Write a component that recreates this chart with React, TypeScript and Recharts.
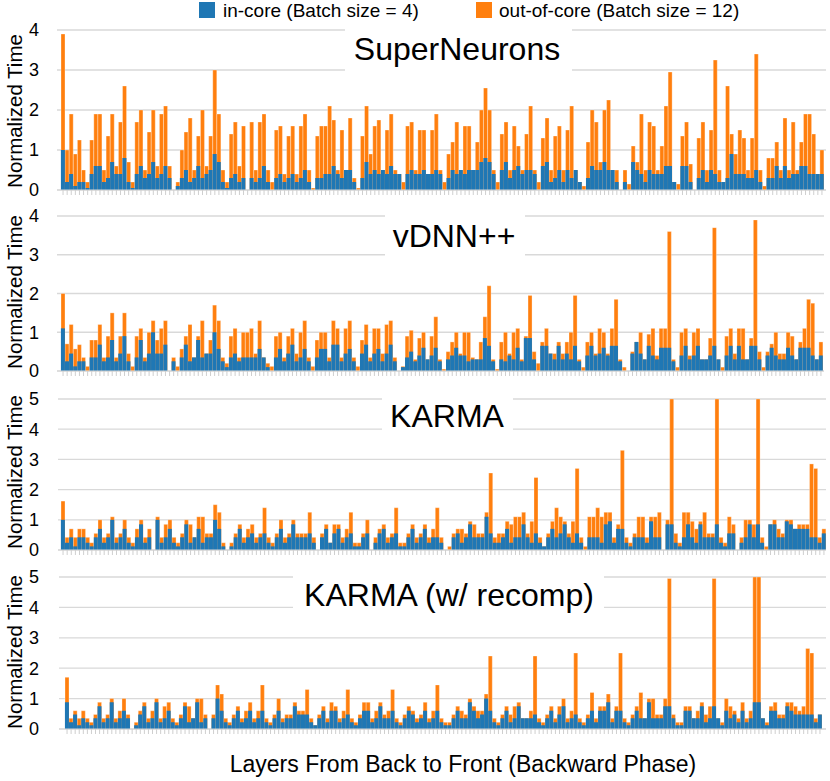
import React from 'react';
import { BarChart, Bar, XAxis, YAxis, CartesianGrid } from 'recharts';

// normalized time per layer, from back to front (186 layers)
const superInCore = [
  1.0, 0.2, 0.4, 0.1, 0.2, 0.2, 0.05, 0.4, 0.6, 0.6, 0.2, 0.3, 0.7, 0.4, 0.4, 0.8, 0.2, 0.05, 0.4, 0.6,
  0.3, 0.4, 0.7, 0.3, 0.4, 0.6, 0.3, 0, 0.1, 0.3, 0.5, 0.2, 0.3, 0.6, 0.3, 0.4, 0.5, 0.9, 0.7, 0.2,
  0.05, 0.3, 0.4, 0.2, 0.3, 0, 0.3, 0.2, 0.3, 0.6, 0.2, 0, 0.3, 0.4, 0.2, 0.3, 0.4, 0.2, 0.3, 0.5,
  0.2, 0, 0.3, 0.3, 0.4, 0.4, 0.6, 0.4, 0.3, 0.5, 0.5, 0.2, 0, 0.3, 0.7, 0.4, 0.5, 0.4, 0.5, 0.4,
  0.6, 0.4, 0.4, 0, 0.4, 0.5, 0.4, 0.4, 0.5, 0.4, 0.4, 0.5, 0.4, 0, 0.3, 0.5, 0.4, 0.5, 0.4, 0.5,
  0.5, 0.5, 0.7, 0.8, 0.7, 0.4, 0, 0.5, 0.7, 0.3, 0.5, 0.6, 0.4, 0.5, 0.5, 0.4, 0, 0.6, 0.7, 0.2,
  0.3, 0.5, 0.2, 0.5, 0.3, 0.5, 0.2, 0, 0.3, 0.6, 0.5, 0.5, 0.7, 0.5, 0.5, 0.2, 0, 0.2, 0, 0.7,
  0.5, 0.4, 0.2, 0.5, 0.4, 0.4, 0.4, 0.6, 0.6, 0.2, 0, 0.6, 0.6, 0.2, 0, 0.3, 0.5, 0.2, 0.5, 0.4,
  0.2, 0.2, 0.3, 0.9, 0.4, 0.4, 0.4, 0.3, 0.3, 0.5, 0.2, 0, 0.3, 0.3, 0.6, 0.3, 0.6, 0.3, 0.4, 0.4,
  0.6, 0.6, 0.4, 0.4, 0.4, 0.4,
];
const superOutCore = [
  3.9, 1.0, 1.9, 0.9, 1.25, 0.5, 0.2, 1.25, 1.9, 1.9, 0.5, 1.35, 1.9, 0.6, 1.7, 2.6, 0.7, 0.2, 1.7, 2.0,
  0.5, 1.45, 2.0, 0.6, 1.9, 2.1, 0.6, 0, 0.2, 1.0, 1.45, 1.8, 0.5, 1.35, 2.0, 0.6, 1.35, 3.0, 1.9, 0.5,
  0.2, 1.4, 1.7, 0.6, 1.6, 0, 1.7, 0.5, 1.7, 1.9, 0.5, 0.2, 1.5, 1.6, 0.4, 1.35, 1.6, 0.4, 1.6, 1.9,
  0.5, 0.05, 1.35, 1.6, 1.6, 2.1, 1.75, 0.5, 1.5, 0.5, 1.8, 0.3, 0.05, 1.35, 2.1, 0.9, 1.6, 1.75, 0.5, 1.5,
  1.9, 0.5, 0.4, 0.2, 1.6, 1.7, 0.5, 1.5, 1.5, 0.4, 1.5, 1.9, 0.5, 0.2, 0.9, 1.2, 1.7, 0.5, 1.6, 1.6,
  0.5, 1.2, 2.0, 2.55, 2.0, 0.5, 0.2, 1.4, 1.7, 0.5, 1.6, 1.1, 0.5, 1.4, 2.1, 0.5, 0.2, 1.3, 1.8, 0.5,
  1.35, 1.6, 0.5, 1.5, 2.1, 0.5, 0.2, 0.1, 1.2, 2.0, 1.7, 0.7, 2.0, 2.25, 0.5, 0.5, 0, 0.5, 0.15, 1.1,
  0.7, 1.9, 0.5, 1.7, 1.6, 0.5, 1.1, 2.1, 2.95, 0.2, 0.15, 1.35, 1.7, 0.65, 0, 1.3, 1.7, 0.5, 1.5, 3.25,
  0.5, 0.2, 2.6, 1.4, 0.9, 1.5, 1.3, 0.5, 1.3, 3.4, 0.5, 0.1, 0.8, 0.8, 1.2, 0.5, 1.8, 0.5, 1.7, 0.5,
  1.2, 1.9, 1.9, 1.4, 0.4, 1.0,
];

const vdnnInCore = [
  1.1, 0.25, 0.45, 0.12, 0.25, 0.25, 0, 0.35, 0.35, 0.68, 0.25, 0.35, 0.8, 0.25, 0.45, 0.9, 0.25, 0, 0.35, 0.8,
  0.25, 0.45, 1.0, 0.45, 0.45, 0.68, 0, 0.25, 0, 0.35, 0.68, 0.25, 0.35, 0.8, 0.35, 0.45, 0.45, 1.0, 0.57, 0.25,
  0.1, 0.35, 0.45, 0.25, 0.35, 0.35, 0.35, 0.35, 0.57, 0.35, 0.1, 0, 0.35, 0.57, 0.25, 0.45, 0.68, 0.25, 0.35, 0.57,
  0.25, 0, 0.35, 0.57, 0.57, 0.25, 0.68, 0.68, 0.25, 0.45, 0.57, 0.25, 0, 0.45, 0.68, 0.25, 0.45, 0.57, 0.25, 0.45,
  0.68, 0.25, 0, 0.1, 0.35, 0.5, 0.25, 0.4, 0.6, 0.3, 0.4, 0.6, 0.25, 0, 0.3, 0.4, 0.6, 0.4, 0.4, 0.25,
  0.3, 0.3, 0.3, 0.85, 0.65, 0.25, 0, 0.3, 0.25, 0.4, 0.3, 0.6, 0.25, 0.85, 0.85, 0.3, 0, 0.65, 0.65, 0.45,
  0.3, 0.65, 0.3, 0.45, 0.3, 0.65, 0.25, 0, 0.4, 0.65, 0.4, 0.45, 0.6, 0.4, 0.65, 0.65, 0.25, 0, 0, 0.45,
  0.75, 0.45, 0.3, 0.65, 0.4, 0.3, 0.6, 0.6, 0.6, 0.25, 0, 0.4, 0.65, 0.3, 0.4, 0.65, 0.3, 0.3, 0.4, 0.65,
  0.3, 0, 0.4, 0.65, 0.3, 0.65, 0.3, 0.3, 0.65, 0.65, 0.3, 0, 0.4, 0.6, 0.4, 0.3, 0.3, 0.6, 0.4, 0.3,
  0.6, 0.6, 0.6, 0.4, 0.3, 0.4,
];
const vdnnOutCore = [
  2.0, 0.7, 1.2, 0.57, 0.68, 0.35, 0.12, 0.8, 0.8, 1.2, 0.35, 0.9, 1.5, 0.35, 0.9, 1.5, 0.45, 0.12, 0.9, 1.1,
  0.35, 1.0, 1.3, 0.8, 1.1, 1.3, 0, 0.35, 0.12, 0.57, 0.9, 1.2, 0.35, 0.9, 1.3, 0.45, 0.8, 1.7, 1.3, 0.35,
  0.2, 0.9, 1.1, 0.35, 1.0, 1.0, 1.1, 0.45, 1.3, 0.35, 0.2, 0.12, 0.9, 1.0, 0.35, 0.9, 1.1, 0.45, 1.0, 1.3,
  0.35, 0.12, 0.8, 1.0, 1.0, 0.35, 1.3, 1.1, 0.35, 1.1, 1.3, 0.35, 0.12, 0.8, 1.2, 0.35, 1.1, 1.1, 0.45, 1.2,
  1.3, 0.35, 0, 0.12, 0.9, 1.05, 0.3, 0.85, 1.0, 0.3, 0.9, 1.4, 0.3, 0.05, 0.5, 0.75, 1.0, 0.45, 1.0, 1.0,
  0.35, 0.3, 0.75, 1.4, 2.2, 0.3, 0.05, 0.75, 1.0, 0.45, 1.0, 1.1, 0.3, 0.9, 1.95, 0.5, 0.2, 0.75, 1.1, 0.45,
  0.45, 0.75, 0.45, 0.75, 1.0, 1.95, 0.3, 0.1, 0.75, 1.0, 0.45, 1.1, 1.0, 0.45, 1.1, 1.85, 0.3, 0.1, 0, 0.5,
  0.75, 1.0, 0.3, 0.95, 1.1, 0.4, 1.1, 1.1, 3.6, 0.3, 0.1, 1.0, 1.1, 0.4, 1.0, 1.1, 0.3, 0.3, 0.85, 3.7,
  0.3, 0.1, 0.9, 1.1, 0.45, 1.1, 1.1, 0.3, 0.85, 3.9, 0.5, 0.1, 0.5, 0.7, 1.0, 0.45, 0.45, 1.0, 0.9, 0.3,
  0.75, 1.1, 1.85, 1.75, 0.3, 0.75,
];

const karmaInCore = [
  1.0, 0.24, 0.42, 0.12, 0.42, 0.42, 0.24, 0.12, 0.42, 0.7, 0.24, 0.42, 1.0, 0.24, 0.42, 0.7, 0.24, 0.12, 0.42, 0.85,
  0.24, 0.42, 0, 1.0, 0.24, 0.42, 0.7, 0.24, 0.12, 0.42, 0.85, 0.24, 0.42, 0.7, 0.24, 0.42, 0.42, 1.0, 0.7, 0.12,
  0, 0.12, 0.42, 0.7, 0.24, 0.42, 0.55, 0.24, 0.42, 0.55, 0.24, 0.12, 0.42, 0.7, 0.24, 0.42, 0.85, 0.42, 0.42, 0.42,
  0.55, 0.24, 0, 0.42, 0.7, 0.24, 0.55, 0.7, 0.24, 0.42, 0.55, 0.12, 0.12, 0.42, 0.55, 0, 0.24, 0.55, 0.7, 0.24,
  0.42, 0.55, 0.12, 0.12, 0.42, 0.7, 0.24, 0.42, 0.7, 0.24, 0.42, 0.42, 0.24, 0, 0, 0.42, 0.55, 0.24, 0.42, 0.85,
  0.42, 0.42, 0.42, 1.1, 0.55, 0.24, 0.24, 0.42, 0.7, 0.24, 0.42, 0.42, 0.85, 0.42, 0.24, 0.55, 0.24, 0.12, 0.42, 0.7,
  0.42, 0.55, 0.85, 0.42, 0.24, 0.55, 0.24, 0, 0.42, 0.42, 0.42, 0.24, 0.85, 0.95, 0.24, 0.7, 0.7, 0.24, 0.12, 0.42,
  0.42, 0.42, 0.24, 0.95, 0.42, 0.42, 0, 0.85, 0.85, 0.24, 0.12, 0.42, 0.85, 0.42, 0.24, 0.85, 0.42, 0.42, 0.42, 0.85,
  0.24, 0.12, 0.55, 0.55, 0, 0.24, 0.42, 0.85, 0.42, 0.85, 0.24, 0, 0.85, 0.85, 0.42, 0.42, 0.95, 0.85, 0.7, 0.7,
  0.7, 0.7, 0.42, 0.42, 0.24, 0.55,
];
const karmaOutCore = [
  1.62, 0.42, 0.7, 0.42, 0.7, 0.7, 0.42, 0.24, 0.55, 1.0, 0.42, 0.55, 1.1, 0.42, 0.55, 1.0, 0.42, 0.24, 0.7, 1.0,
  0.42, 0.7, 0, 1.1, 0.42, 0.85, 1.0, 0.42, 0.24, 0.55, 1.0, 0.85, 0.42, 1.1, 1.1, 0.55, 0.55, 1.5, 1.25, 0.24,
  0, 0.24, 0.55, 0.85, 0.42, 0.7, 0.85, 0.42, 0.55, 1.4, 0.42, 0.24, 0.55, 1.0, 0.42, 0.55, 1.0, 0.55, 0.55, 0.55,
  1.25, 0.42, 0, 0.55, 0.85, 0.24, 0.85, 0.85, 0.42, 0.7, 1.25, 0.24, 0.24, 0.55, 1.0, 0, 0.42, 0.7, 0.85, 0.42,
  0.55, 1.4, 0.24, 0.24, 0.55, 0.85, 0.42, 0.55, 0.85, 0.42, 0.7, 1.4, 0.42, 0, 0.12, 0.55, 0.7, 0.7, 0.55, 0.95,
  0.85, 0.55, 0.55, 1.25, 2.55, 0.42, 0.55, 0.55, 0.95, 0.85, 1.1, 1.1, 1.25, 0.55, 0.95, 2.4, 0.42, 0.12, 0.55, 0.95,
  1.4, 1.1, 0.95, 0.55, 0.95, 2.7, 0.42, 0.12, 1.1, 1.1, 1.4, 1.1, 1.25, 1.25, 0.42, 0.85, 3.3, 0.42, 0.24, 0.55,
  1.1, 1.1, 0.42, 1.1, 1.1, 1.25, 0, 1.0, 5.0, 0.55, 0.24, 1.25, 1.25, 0.95, 0.7, 0.95, 1.25, 0.55, 0.55, 5.0,
  0.42, 0.24, 1.1, 0.85, 0, 0.42, 1.0, 1.0, 0.85, 5.0, 0.42, 0.12, 0.85, 1.0, 0.7, 0.55, 1.0, 1.0, 0.7, 0.85,
  0.85, 0.85, 2.85, 2.7, 0.42, 0.7,
];

const recompInCore = [
  0.88, 0.22, 0.48, 0.12, 0.35, 0.22, 0.12, 0.35, 0.75, 0.22, 0.35, 0.88, 0.22, 0.35, 0.6, 0.35, 0, 0.12, 0.48, 0.75,
  0.22, 0.35, 0.88, 0.22, 0.35, 0.6, 0.22, 0.12, 0.35, 0.75, 0.22, 0.35, 0.88, 0.22, 0.35, 0, 0.35, 1.0, 0.6, 0.22,
  0.12, 0.35, 0.6, 0.22, 0.35, 0.6, 0.22, 0.35, 0.6, 0.22, 0.12, 0.35, 0.6, 0.22, 0.35, 0.35, 0.75, 0.48, 0.48, 0.48,
  0.22, 0.12, 0.35, 0.6, 0.22, 0.6, 0.6, 0.22, 0.35, 0.48, 0.22, 0.12, 0.35, 0.6, 0.6, 0.22, 0.35, 0.75, 0.35, 0.35,
  0.6, 0.22, 0.12, 0.35, 0.6, 0.48, 0.22, 0.35, 0.6, 0.22, 0.35, 0.6, 0.22, 0.12, 0.12, 0.35, 0.6, 0.35, 0.35, 0.88,
  0.6, 0.35, 0.48, 1.0, 0.6, 0.22, 0.12, 0.35, 0.6, 0.22, 0.35, 0.75, 0.35, 0.35, 0.35, 0.48, 0.22, 0.12, 0.35, 0.6,
  0.22, 0.48, 0.75, 0.22, 0.35, 0.48, 0.22, 0.12, 0.35, 0.6, 0.22, 0.6, 0.6, 0.88, 0.22, 0.6, 0.6, 0.22, 0.12, 0.35,
  0.6, 0.35, 0.35, 0.88, 0.35, 0.35, 0.35, 0.75, 0.75, 0.35, 0.12, 0.12, 0.6, 0.6, 0.35, 0.35, 0.75, 0.22, 0.35, 0.75,
  0.35, 0.12, 0.6, 0.35, 0.48, 0.22, 0.6, 0.22, 0.35, 0.88, 0.88, 0.35, 0.12, 0.6, 0.6, 0.35, 0.35, 0.75, 0.6, 0.48,
  0.48, 0.48, 0.48, 0.48, 0.22, 0.48,
];
const recompOutCore = [
  1.7, 0.35, 0.6, 0.35, 0.6, 0.35, 0.22, 0.48, 0.88, 0.35, 0.48, 1.0, 0.35, 0.6, 1.0, 0.48, 0, 0.22, 0.6, 0.88,
  0.35, 0.6, 1.0, 0.35, 0.75, 0.88, 0.35, 0.22, 0.48, 0.88, 0.75, 0.35, 1.0, 1.0, 0.48, 0, 0.48, 1.45, 1.15, 0.35,
  0.22, 0.48, 0.75, 0.35, 0.6, 0.88, 0.35, 0.6, 1.45, 0.35, 0.22, 0.48, 1.0, 0.35, 0.48, 0.48, 0.88, 0.6, 0.6, 1.3,
  0.35, 0.12, 0.48, 0.75, 0.35, 0.88, 0.75, 0.35, 0.6, 1.3, 0.35, 0.22, 0.48, 0.88, 0.88, 0.35, 0.6, 0.88, 0.48, 0.6,
  1.3, 0.35, 0.22, 0.48, 0.75, 0.6, 0.35, 0.48, 0.88, 0.35, 0.6, 1.45, 0.35, 0.22, 0.22, 0.48, 0.75, 0.6, 0.48, 1.0,
  0.75, 0.6, 0.6, 1.15, 2.4, 0.35, 0.22, 0.48, 0.75, 0.48, 0.75, 0.88, 0.35, 0.35, 0.6, 2.4, 0.35, 0.22, 0.48, 0.75,
  0.35, 0.75, 1.0, 0.35, 0.6, 2.5, 0.35, 0.22, 0.48, 1.2, 0.35, 0.75, 0.75, 1.15, 0.35, 0.75, 2.5, 0.35, 0.22, 0.48,
  0.75, 1.2, 0.35, 1.0, 1.0, 0.48, 0.48, 1.0, 4.95, 0.48, 0.22, 0.22, 0.75, 0.75, 0.35, 0.6, 0.88, 0.48, 0.75, 4.95,
  0.35, 0.22, 1.0, 0.75, 0.6, 0.35, 0.88, 0.35, 0.6, 5.0, 5.0, 0.35, 0.22, 0.75, 0.88, 0.48, 0.48, 0.88, 0.88, 0.75,
  0.6, 0.75, 2.65, 2.5, 0.35, 0.48,
];

const FONT = '"Liberation Sans", Arial, sans-serif';
const BLUE = '#1f77b4';
const ORANGE = '#ff7f0e';
const GRID = '#d9d9d9';

const panels = [
  {
    title: 'SuperNeurons', inCore: superInCore, outCore: superOutCore,
    top: 20, plotH: 160, yMax: 4, yWidth: 57, right: 4, padL: 4, padR: 2,
    box: [345, 24, 227, 52], titleX: 457, titleY: 60, labelY: 111,
  },
  {
    title: 'vDNN++', inCore: vdnnInCore, outCore: vdnnOutCore,
    top: 206, plotH: 155, yMax: 4, yWidth: 57, right: 6, padL: 4, padR: 1,
    box: [385, 209, 140, 52], titleX: 454, titleY: 247, labelY: 292,
  },
  {
    title: 'KARMA', inCore: karmaInCore, outCore: karmaOutCore,
    top: 389, plotH: 151, yMax: 5, yWidth: 58, right: 4, padL: 3, padR: 0,
    box: [382, 393, 131, 44], titleX: 447, titleY: 427, labelY: 472,
  },
  {
    title: 'KARMA (w/ recomp)', inCore: recompInCore, outCore: recompOutCore,
    top: 567, plotH: 152, yMax: 5, yWidth: 59, right: 4, padL: 6, padR: 4,
    box: [293, 571, 311, 46], titleX: 449, titleY: 606, labelY: 652,
  },
];

const NoLabel = () => <g />;

function Panel({ p }: { p: (typeof panels)[number] }) {
  const rows = p.inCore.map((v, i) => ({ layer: i + 1, inCore: v, outCore: p.outCore[i] }));
  const ticks = Array.from({ length: p.yMax + 1 }, (_, i) => i);
  const height = 10 + p.plotH + 10;
  return (
    <div style={{ position: 'absolute', left: 0, top: p.top }}>
      <BarChart
        width={830}
        height={height}
        data={rows}
        margin={{ top: 10, right: p.right, bottom: 0, left: 0 }}
        barCategoryGap={0}
        barGap="-100%"
      >
        <CartesianGrid vertical={false} stroke={GRID} strokeWidth={1.3} />
        <XAxis
          dataKey="layer"
          interval={0}
          tick={NoLabel}
          tickSize={5}
          tickLine={{ stroke: '#cfcfcf' }}
          axisLine={{ stroke: GRID }}
          height={10}
          padding={{ left: p.padL, right: p.padR }}
        />
        <YAxis
          domain={[0, p.yMax]}
          ticks={ticks}
          interval={0}
          allowDataOverflow
          width={p.yWidth}
          tickLine={false}
          axisLine={false}
          tickSize={0}
          tickMargin={p.yWidth - 39}
          tick={{ fill: '#000', fontSize: 18, fontFamily: FONT }}
        />
        <Bar
          dataKey="outCore"
          fill={ORANGE}
          stroke="#ffffff"
          strokeOpacity={0.5}
          strokeWidth={0.6}
          isAnimationActive={false}
        />
        <Bar dataKey="inCore" fill={BLUE} isAnimationActive={false} />
      </BarChart>
    </div>
  );
}

export default function App() {
  return (
    <div style={{ position: 'absolute', left: 0, top: 0, width: 830, height: 781, background: '#fff' }}>
      {panels.map((p) => (
        <Panel key={p.title} p={p} />
      ))}
      <svg
        width={830}
        height={781}
        style={{ position: 'absolute', left: 0, top: 0, pointerEvents: 'none' }}
        fontFamily={FONT}
      >
        {/* legend */}
        <rect x={199} y={2} width={16} height={16} fill={BLUE} />
        <text x={223} y={17} fontSize={19} fill="#000">in-core (Batch size = 4)</text>
        <rect x={476} y={2} width={16} height={16} fill={ORANGE} />
        <text x={499} y={17} fontSize={19} fill="#000">out-of-core (Batch size = 12)</text>

        {panels.map((p) => (
          <g key={p.title}>
            <rect x={p.box[0]} y={p.box[1]} width={p.box[2]} height={p.box[3]} fill="#fff" />
            <text x={p.titleX} y={p.titleY} fontSize={32} textAnchor="middle" fill="#000">
              {p.title}
            </text>
            <text
              transform={`translate(21.5, ${p.labelY}) rotate(-90)`}
              fontSize={20.5}
              textAnchor="middle"
              fill="#000"
            >
              Normalized Time
            </text>
          </g>
        ))}

        <text x={463} y={772} fontSize={23} textAnchor="middle" fill="#000">
          Layers From Back to Front (Backward Phase)
        </text>
      </svg>
    </div>
  );
}
